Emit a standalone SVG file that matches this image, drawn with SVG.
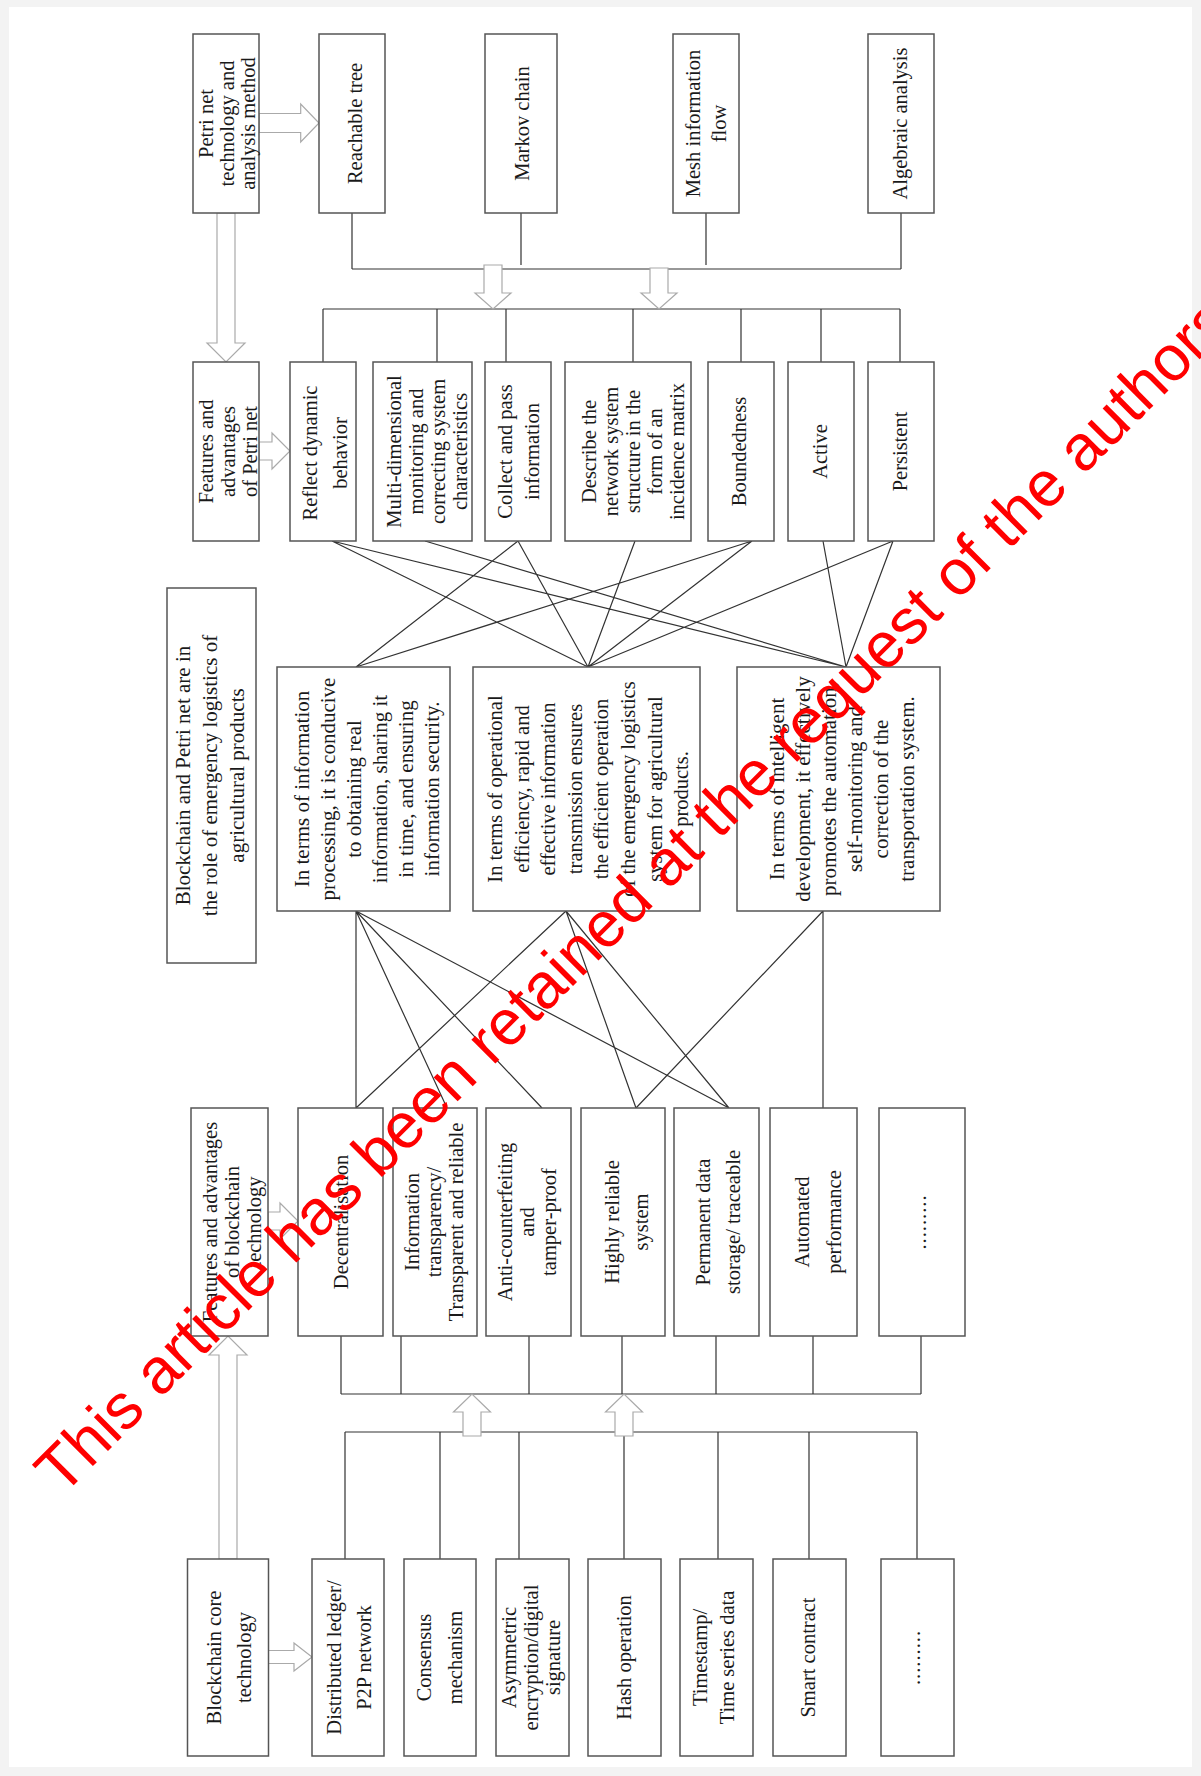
<svg xmlns="http://www.w3.org/2000/svg" width="1201" height="1776" viewBox="0 0 1201 1776">
<style>
.box{fill:#fff;stroke:#555;stroke-width:1.5}
.ln{stroke:#333;stroke-width:1.2;fill:none}
.ha{fill:#fff;stroke:#aaa;stroke-width:1.2}
.t{font-family:"Liberation Serif","Times New Roman",serif;font-size:20.5px;fill:#1a1a1a;text-anchor:middle}
.tl{font-size:21px}
.wm{font-family:"Liberation Sans",Arial,sans-serif;font-size:64px;fill:#ff0000}
</style>
<rect x="0" y="0" width="1201" height="1776" fill="#f3f3f3"/>
<rect x="9" y="7" width="1183" height="1760" fill="#fff"/>

<g id="connectors">
<path class="ln" d="M352,213V269M521,213V265M706,213V265M901,213V269M352,269H901"/>
<path class="ln" d="M323,309H900M323,309V362M437,309V362M506,309V362M633,309V362M741,309V362M821,309V362M900,309V362"/>
<path class="ln" d="M332,541L588,667M332,541L846,667M425,541L846,667M518,541L356,667M518,541L588,667M635,541L588,667M752,541L356,667M752,541L588,667M823,541L846,667M893,541L588,667M893,541L846,667"/>
<path class="ln" d="M356,911V1108M356,911L447,1108M356,911L542,1108M356,911L729,1108M566,911L356,1108M566,911L636,1108M566,911L729,1108M823,911L636,1108M823,911V1108"/>
<path class="ln" d="M341,1336V1394M401,1336V1394M529,1336V1394M622,1336V1394M716,1336V1394M813,1336V1394M921,1336V1394M341,1394H921"/>
<path class="ln" d="M345,1432H917M345,1432V1559M440,1432V1559M519,1432V1559M624,1432V1559M718,1432V1559M809,1432V1559M917,1432V1559"/>
<polygon class="ha" points="217,213 217,343 207,343 226,362 245,343 235,343 235,213"/>
<polygon class="ha" points="484,265 484,293 475,293 493,309 511,293 502,293 502,265"/>
<polygon class="ha" points="650,268 650,293 641,293 659,309 677,293 668,293 668,268"/>
<polygon class="ha" points="463,1436 463,1412 453.5,1412 472,1394 490.5,1412 481,1412 481,1436"/>
<polygon class="ha" points="615,1436 615,1412 605.5,1412 624,1394 642.5,1412 633,1412 633,1436"/>
<polygon class="ha" points="219,1559 219,1355 209,1355 228,1336 247,1355 237,1355 237,1559"/>
<polygon class="ha" points="259,113.5 300.7,113.5 300.7,104 319,123 300.7,142 300.7,132.5 259,132.5"/>
<polygon class="ha" points="259,442 272,442 272,433 290,451 272,469 272,460 259,460"/>
<polygon class="ha" points="268,1212 280,1212 280,1203 298,1221 280,1239 280,1230 268,1230"/>
<polygon class="ha" points="268,1650.5 294,1650.5 294,1643 312,1657 294,1671 294,1663.5 268,1663.5"/>
</g>

<g id="petri-tech"><rect class="box" x="193" y="34" width="66" height="179"/>
<text class="t" transform="translate(213,123.5) rotate(-90)"><tspan x="0" y="0">Petri net</tspan><tspan x="0" y="21">technology and</tspan><tspan x="0" y="42">analysis method</tspan></text></g>
<g id="reachable-tree"><rect class="box" x="319" y="34" width="66" height="179"/>
<text class="t" transform="translate(361.5,123.5) rotate(-90)">Reachable tree</text></g>
<g id="markov-chain"><rect class="box" x="485" y="34" width="72" height="179"/>
<text class="t" transform="translate(528.5,123.5) rotate(-90)">Markov chain</text></g>
<g id="mesh-info"><rect class="box" x="673" y="34" width="66" height="179"/>
<text class="t" transform="translate(699.5,123.5) rotate(-90)"><tspan x="0" y="0">Mesh information</tspan><tspan x="0" y="26.5">flow</tspan></text></g>
<g id="algebraic"><rect class="box" x="868" y="34" width="66" height="179"/>
<text class="t" transform="translate(906.5,123.5) rotate(-90)">Algebraic analysis</text></g>

<g id="petri-features"><rect class="box" x="193" y="362" width="66" height="179"/>
<text class="t" transform="translate(213.3,451.5) rotate(-90)"><tspan x="0" y="0">Features and</tspan><tspan x="0" y="22">advantages</tspan><tspan x="0" y="44">of Petri net</tspan></text></g>
<g id="reflect"><rect class="box" x="290" y="362" width="66" height="179"/>
<text class="t" transform="translate(317,453) rotate(-90)"><tspan x="0" y="0">Reflect dynamic</tspan><tspan x="0" y="30">behavior</tspan></text></g>
<g id="multi"><rect class="box" x="373" y="362" width="99" height="179"/>
<text class="t" transform="translate(401,451.5) rotate(-90)"><tspan x="0" y="0">Multi-dimensional</tspan><tspan x="0" y="22">monitoring and</tspan><tspan x="0" y="44">correcting system</tspan><tspan x="0" y="66">characteristics</tspan></text></g>
<g id="collect"><rect class="box" x="485" y="362" width="66" height="179"/>
<text class="t" transform="translate(512,451.5) rotate(-90)"><tspan x="0" y="0">Collect and pass</tspan><tspan x="0" y="27">information</tspan></text></g>
<g id="describe"><rect class="box" x="565" y="362" width="126" height="179"/>
<text class="t" transform="translate(596,451.5) rotate(-90)"><tspan x="0" y="0">Describe the</tspan><tspan x="0" y="22">network system</tspan><tspan x="0" y="44">structure in the</tspan><tspan x="0" y="66">form of an</tspan><tspan x="0" y="88">incidence matrix</tspan></text></g>
<g id="boundedness"><rect class="box" x="708" y="362" width="66" height="179"/>
<text class="t" transform="translate(745.5,451.5) rotate(-90)">Boundedness</text></g>
<g id="active"><rect class="box" x="788" y="362" width="66" height="179"/>
<text class="t" transform="translate(827,451.5) rotate(-90)">Active</text></g>
<g id="persistent"><rect class="box" x="868" y="362" width="66" height="179"/>
<text class="t" transform="translate(906.7,451.5) rotate(-90)">Persistent</text></g>

<g id="title"><rect class="box" x="167" y="588" width="89" height="375"/>
<text class="t tl" transform="translate(190,775.5) rotate(-90)"><tspan x="0" y="0">Blockchain and Petri net are in</tspan><tspan x="0" y="27">the role of emergency logistics of</tspan><tspan x="0" y="54">agricultural products</tspan></text></g>
<g id="role-info"><rect class="box" x="277" y="667" width="173" height="244"/>
<text class="t tl" transform="translate(309,789) rotate(-90)"><tspan x="0" y="0">In terms of information</tspan><tspan x="0" y="26">processing, it is conducive</tspan><tspan x="0" y="52">to obtaining real</tspan><tspan x="0" y="78">information, sharing it</tspan><tspan x="0" y="104">in time, and ensuring</tspan><tspan x="0" y="130">information security.</tspan></text></g>
<g id="role-efficiency"><rect class="box" x="473" y="667" width="227" height="244"/>
<text class="t" transform="translate(502,789) rotate(-90)"><tspan x="0" y="0">In terms of operational</tspan><tspan x="0" y="26.6">efficiency, rapid and</tspan><tspan x="0" y="53.2">effective information</tspan><tspan x="0" y="79.8">transmission ensures</tspan><tspan x="0" y="106.4">the efficient operation</tspan><tspan x="0" y="133">of the emergency logistics</tspan><tspan x="0" y="159.6">system for agricultural</tspan><tspan x="0" y="186.2">products.</tspan></text></g>
<g id="role-intelligent"><rect class="box" x="737" y="667" width="203" height="244"/>
<text class="t tl" transform="translate(784,789) rotate(-90)"><tspan x="0" y="0">In terms of intelligent</tspan><tspan x="0" y="26">development, it effectively</tspan><tspan x="0" y="52">promotes the automation,</tspan><tspan x="0" y="78">self-monitoring and</tspan><tspan x="0" y="104">correction of the</tspan><tspan x="0" y="130">transportation system.</tspan></text></g>

<g id="bc-features"><rect class="box" x="191" y="1108" width="77" height="228"/>
<text class="t" transform="translate(217,1222) rotate(-90)"><tspan x="0" y="0">Features and advantages</tspan><tspan x="0" y="22">of blockchain</tspan><tspan x="0" y="44">technology</tspan></text></g>
<g id="decentral"><rect class="box" x="298" y="1108" width="85" height="228"/>
<text class="t" transform="translate(348,1222) rotate(-90)">Decentralisation</text></g>
<g id="transparency"><rect class="box" x="393" y="1108" width="84" height="228"/>
<text class="t" transform="translate(419,1222) rotate(-90)"><tspan x="0" y="0">Information</tspan><tspan x="0" y="22">transparency/</tspan><tspan x="0" y="44">Transparent and reliable</tspan></text></g>
<g id="anti-counterfeit"><rect class="box" x="486" y="1108" width="85" height="228"/>
<text class="t" transform="translate(512,1222) rotate(-90)"><tspan x="0" y="0">Anti-counterfeiting</tspan><tspan x="0" y="22">and</tspan><tspan x="0" y="44">tamper-proof</tspan></text></g>
<g id="reliable"><rect class="box" x="581" y="1108" width="84" height="228"/>
<text class="t" transform="translate(619,1222) rotate(-90)"><tspan x="0" y="0">Highly reliable</tspan><tspan x="0" y="29">system</tspan></text></g>
<g id="permanent"><rect class="box" x="674" y="1108" width="85" height="228"/>
<text class="t" transform="translate(709.5,1222) rotate(-90)"><tspan x="0" y="0">Permanent data</tspan><tspan x="0" y="30">storage/ traceable</tspan></text></g>
<g id="automated"><rect class="box" x="770" y="1108" width="87" height="228"/>
<text class="t" transform="translate(809,1222) rotate(-90)"><tspan x="0" y="0">Automated</tspan><tspan x="0" y="32">performance</tspan></text></g>
<g id="features-more"><rect class="box" x="879" y="1108" width="86" height="228"/>
<text class="t" transform="translate(926,1222) rotate(-90)" letter-spacing="1">.........</text></g>

<g id="core-tech"><rect class="box" x="187.5" y="1559" width="81" height="197"/>
<text class="t" transform="translate(220.5,1657.5) rotate(-90)"><tspan x="0" y="0">Blockchain core</tspan><tspan x="0" y="30">technology</tspan></text></g>
<g id="ledger"><rect class="box" x="312" y="1559" width="72" height="197"/>
<text class="t" transform="translate(340.5,1657.5) rotate(-90)"><tspan x="0" y="0">Distributed ledger/</tspan><tspan x="0" y="30">P2P network</tspan></text></g>
<g id="consensus"><rect class="box" x="404" y="1559" width="72" height="197"/>
<text class="t" transform="translate(431,1657.5) rotate(-90)"><tspan x="0" y="0">Consensus</tspan><tspan x="0" y="31">mechanism</tspan></text></g>
<g id="asymmetric"><rect class="box" x="496" y="1559" width="73" height="197"/>
<text class="t" transform="translate(516,1657.5) rotate(-90)"><tspan x="0" y="0">Asymmetric</tspan><tspan x="0" y="22">encryption/digital</tspan><tspan x="0" y="44">signature</tspan></text></g>
<g id="hash"><rect class="box" x="588" y="1559" width="73" height="197"/>
<text class="t" transform="translate(631,1657.5) rotate(-90)">Hash operation</text></g>
<g id="timestamp"><rect class="box" x="680" y="1559" width="73" height="197"/>
<text class="t" transform="translate(707,1657.5) rotate(-90)"><tspan x="0" y="0">Timestamp/</tspan><tspan x="0" y="27">Time series data</tspan></text></g>
<g id="smart-contract"><rect class="box" x="773" y="1559" width="73" height="197"/>
<text class="t" transform="translate(814.5,1657.5) rotate(-90)">Smart contract</text></g>
<g id="core-more"><rect class="box" x="881" y="1559" width="73" height="197"/>
<text class="t" transform="translate(920,1657.5) rotate(-90)" letter-spacing="1">.........</text></g>

<text class="wm" transform="translate(62,1497) rotate(-45)">This article has been retained at the request of the authors</text>
</svg>
